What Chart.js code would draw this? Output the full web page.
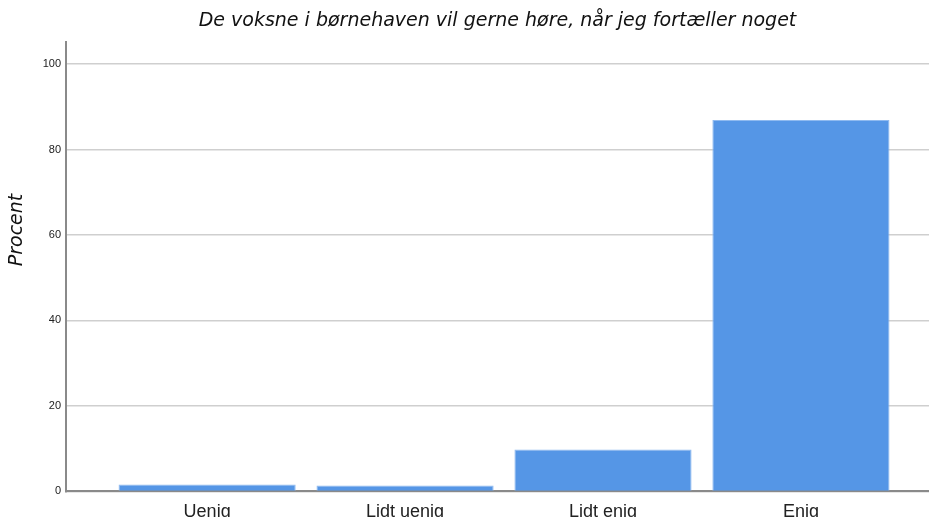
<!DOCTYPE html>
<html>
<head>
<meta charset="utf-8">
<script src="https://cdn.jsdelivr.net/npm/chart.js@4"></script>
<style>
  html, body { margin: 0; padding: 0; background: #fff; overflow: hidden; }
  #wrap { width: 929px; height: 533px; }
</style>
</head>
<body>
<div id="wrap"><canvas id="barChart"></canvas></div>
<script>
const categories = ['Uenig', 'Lidt uenig', 'Lidt enig', 'Enig'];
const percentValues = [1.6, 1.4, 9.8, 86.9];
const yTicks = [0, 20, 40, 60, 80, 100];
const yTitle = 'Procent';

// y-axis title drawn by hand so it can sit above the axis centre, as in the original
const yTitlePlugin = {
  id: 'yTitle',
  afterDraw(c) {
    const g = c.ctx;
    g.save();
    g.translate(17, 230);
    g.rotate(-Math.PI / 2);
    g.font = 'oblique 19px "DejaVu Sans"';
    g.fillStyle = '#111';
    g.textAlign = 'center';
    g.textBaseline = 'middle';
    g.fillText(yTitle, 0, 0);
    g.restore();
  }
};

const ctx = document.getElementById('barChart').getContext('2d');
const chart = new Chart(ctx, {
  type: 'bar',
  data: {
    datasets: [{
      data: percentValues.map((v, i) => ({ x: i, y: v })),
      backgroundColor: '#5596e6',
      borderColor: '#8fbaf0',
      borderWidth: 1,
      categoryPercentage: 1,
      barPercentage: 0.895
    }]
  },
  plugins: [yTitlePlugin],
  options: {
    responsive: true,
    maintainAspectRatio: false,
    animation: false,
    plugins: {
      legend: { display: false },
      tooltip: { enabled: false },
      title: {
        display: true,
        fullSize: false,
        text: 'De voksne i børnehaven vil gerne høre, når jeg fortæller noget',
        color: '#111',
        font: { family: 'DejaVu Sans', size: 19, style: 'oblique', weight: 'normal' },
        padding: { top: 10, bottom: 9 }
      }
    },
    scales: {
      x: {
        type: 'linear',
        offset: false,
        min: -0.713,
        max: 3.647,
        grid: { display: false, drawTicks: false },
        border: { color: '#8a8a8a', width: 2 },
        afterBuildTicks: s => { s.ticks = categories.map((c, i) => ({ value: i })); },
        ticks: {
          callback: v => categories[v],
          color: '#222',
          font: { family: 'Liberation Sans', size: 18 },
          padding: 10,
          autoSkip: false,
          maxRotation: 0
        }
      },
      y: {
        min: 0,
        max: 105.2,
        afterBuildTicks: s => { s.ticks = yTicks.map(v => ({ value: v })); },
        afterFit: s => { s.width = 66; },
        grid: { color: '#cfcfcf', lineWidth: 1.5, drawTicks: false },
        border: { color: '#8a8a8a', width: 2 },
        ticks: {
          color: '#222',
          font: { family: 'Liberation Sans', size: 11 },
          padding: 5
        }
      }
    }
  }
});
</script>
</body>
</html>
